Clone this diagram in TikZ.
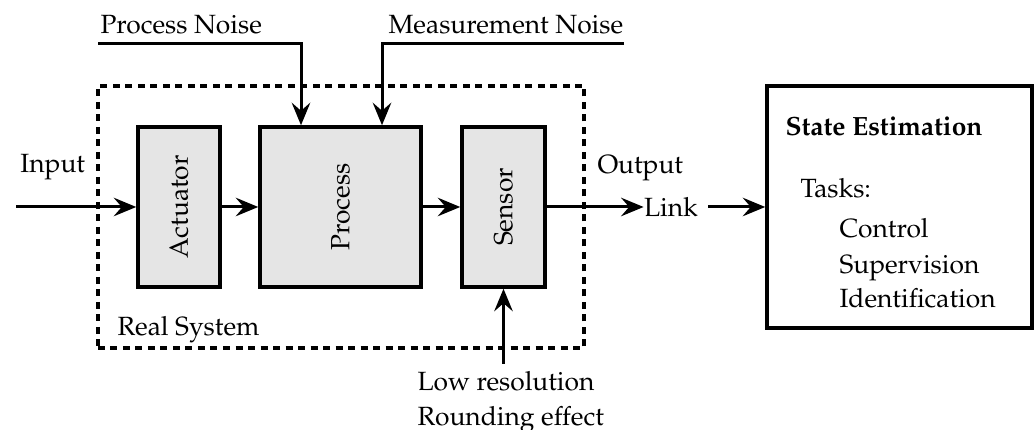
\documentclass[tikz,border=0pt,11pt]{standalone}
\usepackage[T1]{fontenc}
\usepackage{mathpazo}
\usetikzlibrary{arrows.meta, positioning}

\begin{document}
\begin{tikzpicture}[
      x=0.4pt, y=-0.4pt,
      every node/.style={font=\fontsize{10.55pt}{13pt}\selectfont},
      block/.style={draw, line width=1.4pt, fill=black!10, minimum height=64pt},
      estbox/.style={draw, line width=1.4pt, minimum width=106pt, minimum height=96.8pt},
      sysbox/.style={draw, line width=1.3pt, dash pattern=on 2.8pt off 2.2pt,
                     minimum width=194.4pt, minimum height=104.8pt},
      lbl/.style={anchor=base west, inner sep=0pt},
      arr/.style={-{Stealth[length=9pt, width=7.4pt, inset=3.2pt]}, line width=1.2pt}
    ]
    \useasboundingbox (0,0) rectangle (1034,430);
    \node[sysbox] (sys) at (341,217) {};
    \node[block, minimum width=32.8pt] (act) at (179,207) {\rotatebox{90}{Actuator}};
    \node[block, minimum width=64.4pt] (proc) at (340.5,207) {\rotatebox{90}{Process}};
    \node[block, minimum width=33.2pt] (sens) at (503.5,207) {\rotatebox{90}{Sensor}};
    \node[estbox] (est) at (899.5,207) {};
    \node[inner xsep=0pt] (link) at (671,207) {Link};
    \coordinate (in) at (16,207);
    \coordinate (pn) at (98,44);
    \coordinate (mn) at (624,44);
    \node[lbl] (input) at (20,173) {Input};
    \node[lbl] (output) at (597,174) {Output};
    \node[lbl] (pnoise) at (100,34) {Process Noise};
    \node[lbl] (mnoise) at (388,34) {Measurement Noise};
    \node[lbl] (real) at (117,336) {Real System};
    \node[lbl] (lowres) at (417,391) {Low resolution};
    \node[lbl] (round) at (417,426) {Rounding effect};
    \node[lbl, font=\fontsize{10.55pt}{13pt}\selectfont\bfseries] (title) at (785,136) {State Estimation};
    \node[lbl] (tasks) at (800,198) {Tasks:};
    \node[lbl] (t1) at (839,238) {Control};
    \node[lbl] (t2) at (839,274) {Supervision};
    \node[lbl] (t3) at (839,308) {Identification};
    \draw[arr] (in) -- (act);
    \draw[arr] (act) -- (proc);
    \draw[arr] (proc) -- (sens);
    \draw[arr] (sens) -- (link);
    \draw[arr, shorten <=4pt] (link) -- (est);
    \draw[arr] (pn) -| ([xshift=-15.8pt]proc.north);
    \draw[arr] (mn) -| ([xshift=16.6pt]proc.north);
    \draw[arr] ([yshift=3pt]lowres.north -| sens.south) -- (sens.south);
  \end{tikzpicture}
\end{document}
